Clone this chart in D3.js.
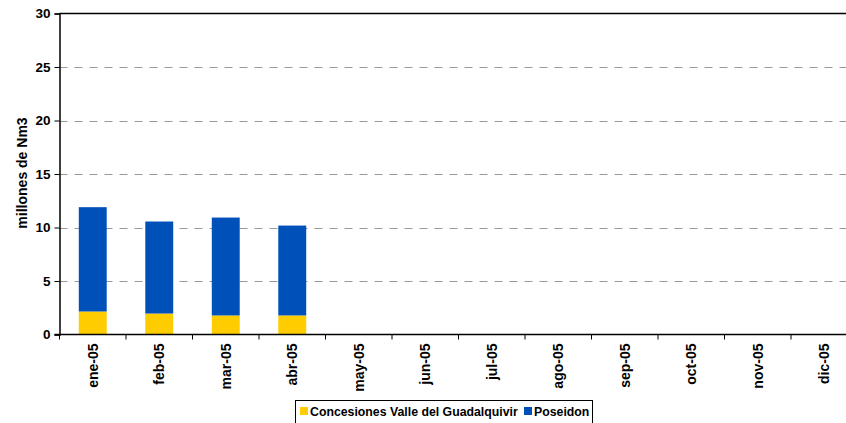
<!DOCTYPE html>
<html>
<head>
<meta charset="utf-8">
<script src="https://cdn.jsdelivr.net/npm/d3@7"></script>
<style>
  body { margin: 0; background: #fff; }
  text { font-family: "Liberation Sans", Arial, sans-serif; font-weight: bold; fill: #000; }
</style>
</head>
<body>
<svg width="846" height="423"></svg>
<script>
// data
var months = ["ene-05", "feb-05", "mar-05", "abr-05", "may-05", "jun-05",
              "jul-05", "ago-05", "sep-05", "oct-05", "nov-05", "dic-05"];
var concesiones = [2.15, 1.96, 1.78, 1.78, 0, 0, 0, 0, 0, 0, 0, 0];
var poseidon    = [9.75, 8.6, 9.15, 8.4, 0, 0, 0, 0, 0, 0, 0, 0];
var yTicks = [0, 5, 10, 15, 20, 25, 30];
var seriesNames = ["Concesiones Valle del Guadalquivir", "Poseidon"];
var seriesColors = ["#FFCC00", "#0050BA"];

var svg = d3.select("svg");
const plotLeft = 59.5, plotTop = 13.5, plotBottom = 334.5
    ,step = 66.5;

var x = d3.scaleBand()
    .domain(months)
    .range([plotLeft, plotLeft + step * months.length])
    .paddingInner(0.58)
    .paddingOuter(0.29);

var y = d3.scaleLinear().domain([0, 30]).range([plotBottom, plotTop]);

//dashed gridlines
svg.append("g").selectAll("line")
    .data(yTicks.filter(function(d) { return d > 0 && d < 30; }))
    .enter().append("line")
    .attr("x1", plotLeft).attr("x2", 846)
    .attr("y1", function(d) { return Math.round(y(d)) + 0.5; })
    .attr("y2", function(d) { return Math.round(y(d)) + 0.5; })
    .attr("stroke", "#999")
    .attr("stroke-dasharray", "8,7");

//stacked bars
var stackData = months.map(function(m, i) {
    return {month: m, c: concesiones[i], p: poseidon[i]};
});
var stack = d3.stack().keys(["c", "p"])(stackData);

svg.append("g").selectAll("g")
    .data(stack)
    .enter().append("g")
    .attr("fill", function(d, i) { return seriesColors[i]; })
    .selectAll("rect")
    .data(function(d) { return d; })
    .enter().append("rect")
    .attr("x", function(d) { return x(d.data.month); })
    .attr("width", x.bandwidth())
    .attr("y", function(d) { return y(d[1]); })
    .attr("height", function(d) { return y(d[0]) - y(d[1]); });

//top border
svg.append("line")
    .attr("x1", plotLeft).attr("x2", 846)
    .attr("y1", plotTop).attr("y2", plotTop)
    .attr("stroke", "#000").attr("stroke-width", 1.5);

//y axis
var yAxis = svg.append("g")
    .attr("transform", "translate(" + plotLeft + ",0)")
    .call(d3.axisLeft(y).tickValues(yTicks).tickSize(5).tickPadding(4));
yAxis.select(".domain").attr("stroke", "#000").attr("stroke-width", 1.5);
yAxis.selectAll(".tick line").attr("stroke", "#000");
yAxis.selectAll("text").style("font-size", "13.5px").attr("font-family", null);

//x axis line and ticks between months
svg.append("line")
    .attr("x1", plotLeft - 5).attr("x2", 846)
    .attr("y1", plotBottom).attr("y2", plotBottom)
    .attr("stroke", "#000").attr("stroke-width", 1.5);

svg.append("g").selectAll("line")
    .data(d3.range(months.length + 1))
    .enter().append("line")
    .attr("x1", function(i) { return plotLeft + i * step; })
    .attr("x2", function(i) { return plotLeft + i * step; })
    .attr("y1", plotBottom).attr("y2", plotBottom + 5)
    .attr("stroke", "#000");

svg.append("g").selectAll("text")
    .data(months)
    .enter().append("text")
    .attr("transform", function(d) {
        return "translate(" + (x(d) + x.bandwidth() / 2 + 5) + "," + (plotBottom + 9) + ") rotate(-90)";
    })
    .attr("text-anchor", "end")
    .style("font-size", "14px")
    .text(function(d) { return d; });

//y label
svg.append("text")
    .attr("transform", "translate(27," + ((plotTop + plotBottom) / 2 - 1) + ") rotate(-90)")
    .attr("text-anchor", "middle")
    .style("font-size", "14px")
    .text("millones de Nm3");

//legend
var legend = svg.append("g");
legend.append("rect")
    .attr("x", 295.5).attr("y", 400.5)
    .attr("width", 297).attr("height", 30)
    .attr("fill", "none").attr("stroke", "#000");

var legendX = [300, 524];
seriesNames.forEach(function(name, i) {
    legend.append("rect")
        .attr("x", legendX[i]).attr("y", 407)
        .attr("width", 8).attr("height", 8)
        .attr("fill", seriesColors[i]);
    legend.append("text")
        .attr("x", legendX[i] + 10).attr("y", 416)
        .style("font-size", "12.3px")
        .text(name);
});
</script>
</body>
</html>
